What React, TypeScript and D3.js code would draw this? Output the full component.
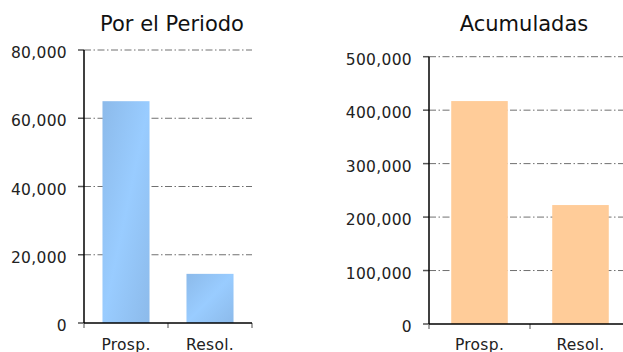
import React from "react";
import * as d3 from "d3";

const categories = ["Prosp.", "Resol."];
const periodValues = [65000, 14400];
const cumulativeValues = [417000, 222500];
const periodTicks = [0, 20000, 40000, 60000, 80000];
const cumulativeTicks = [0, 100000, 200000, 300000, 400000, 500000];
const periodTitle = "Por el Periodo";
const cumulativeTitle = "Acumuladas";

const FONT = "'DejaVu Sans', Verdana, sans-serif";

type PanelProps = {
  title: string;
  titleX: number;
  values: number[];
  ticks: number[];
  x0: number;
  x1: number;
  yTop: number;
  yZero: number;
  gridEnd: number;
  fill: string;
};

function Panel({ title, titleX, values, ticks, x0, x1, yTop, yZero, gridEnd, fill }: PanelProps) {
  const max = ticks[ticks.length - 1];
  const y = d3.scaleLinear().domain([0, max]).range([yZero, yTop]);
  const x = d3.scaleBand<string>().domain(categories).range([x0, x1]).paddingInner(0.44).paddingOuter(0.22);
  const fmt = d3.format(",");
  const step = x.step();
  const boundaries = d3.range(categories.length + 1).map((i) => x0 + i * step);
  return (
    <g>
      <text x={titleX} y={31} textAnchor="middle" fontFamily={FONT} fontSize={21} fill="#111">
        {title}
      </text>
      {ticks.filter((t) => t > 0).map((t) => (
        <line key={"g" + t} x1={x0} x2={gridEnd} y1={y(t)} y2={y(t)} stroke="#707070" strokeWidth={1} strokeDasharray="7,2.5,1.5,2.5" />
      ))}
      {values.map((v, i) => (
        <rect key={"b" + i} x={x(categories[i])} y={y(v)} width={x.bandwidth()} height={yZero - y(v)} fill={fill} />
      ))}
      {ticks.map((t) => (
        <g key={"t" + t}>
          <line x1={x0 - 6} x2={x0} y1={y(t)} y2={y(t)} stroke="#555" strokeWidth={1.5} />
          <text x={x0 - 17} y={y(t) + 8} textAnchor="end" fontFamily={FONT} fontSize={15.5} letterSpacing={0.3} fill="#222">
            {fmt(t)}
          </text>
        </g>
      ))}
      {boundaries.map((b, i) => (
        <line key={"xb" + i} x1={b} x2={b} y1={yZero} y2={yZero + 5} stroke="#888" strokeWidth={1.5} />
      ))}
      <line x1={x0} x2={x0} y1={yTop} y2={yZero} stroke="#000" strokeWidth={1.5} />
      <line x1={x0} x2={x1} y1={yZero} y2={yZero} stroke="#000" strokeWidth={1.5} />
      {categories.map((c) => (
        <text key={"l" + c} x={(x(c) ?? 0) + x.bandwidth() / 2} y={350} textAnchor="middle" fontFamily={FONT} fontSize={15.5} letterSpacing={0.3} fill="#222">
          {c}
        </text>
      ))}
    </g>
  );
}

export default function App() {
  return (
    <svg width={623} height={352} style={{ position: "absolute", left: 0, top: 0, background: "#fff" }}>
      <defs>
        <linearGradient id="blueGrad" x1="0" y1="0" x2="1" y2="1">
          <stop offset="0" stopColor="#8CBAEA" />
          <stop offset="0.5" stopColor="#99CCFF" />
          <stop offset="1" stopColor="#8CBAEA" />
        </linearGradient>
      </defs>
      <rect x={0} y={0} width={623} height={352} fill="#fff" />
      <Panel
        title={periodTitle}
        titleX={172}
        values={periodValues}
        ticks={periodTicks}
        x0={84}
        x1={252}
        yTop={50}
        yZero={323}
        gridEnd={252}
        fill="url(#blueGrad)"
      />
      <Panel
        title={cumulativeTitle}
        titleX={524}
        values={cumulativeValues}
        ticks={cumulativeTicks}
        x0={429}
        x1={631}
        yTop={56.7}
        yZero={324}
        gridEnd={631}
        fill="#FFCC99"
      />
    </svg>
  );
}
